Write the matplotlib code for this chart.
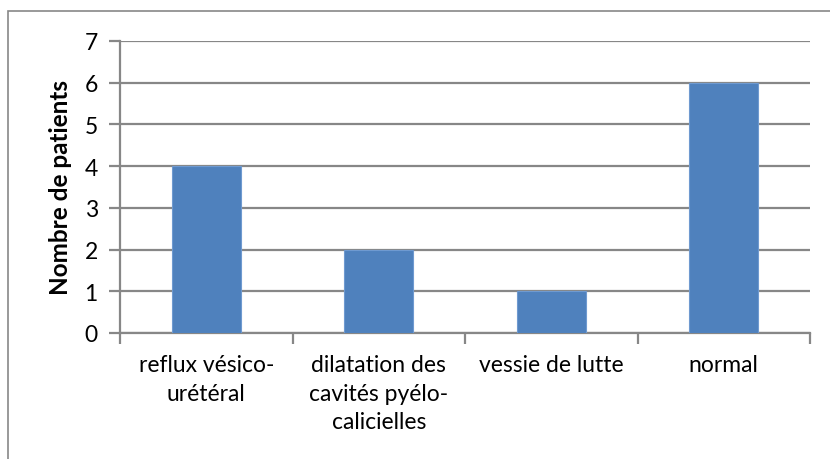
import matplotlib.pyplot as plt
from matplotlib.patches import Rectangle

categories = ["reflux vésico-\nurétéral", "dilatation des\ncavités pyélo-\ncalicielles",
              "vessie de lutte", "normal"]
values = [4, 2, 1, 6]
yticks = [0, 1, 2, 3, 4, 5, 6, 7]

plt.rcParams['font.family'] = ['Lato', 'DejaVu Sans']
grey = '#878787'
fs = 16.5

fig = plt.figure(figsize=(8.3, 4.6), dpi=100)
ax = fig.add_axes([120 / 830, 126 / 460, 690 / 830, 292 / 460])

# outer chart border (cut off on right/bottom like the source)
fig.patches.append(Rectangle((8 / 830, -0.1), 1.1, (460 - 12) / 460 + 0.1,
                             transform=fig.transFigure, fill=False,
                             edgecolor=grey, linewidth=1.2))

x = range(len(categories))
ax.bar(x, values, width=0.4, color='#4F81BD', edgecolor='#6F9AD0',
       linewidth=0.8, zorder=3)

ax.set_xlim(-0.5, len(categories) - 0.5)
ax.set_ylim(0, 7)
ax.set_yticks(yticks)
ax.set_yticklabels([str(t) for t in yticks], fontsize=fs)
ax.yaxis.grid(True, color=grey, linewidth=1.6)
ax.set_axisbelow(True)

ax.set_xticks([i - 0.5 for i in range(len(categories) + 1)])
ax.set_xticklabels([])
ax.tick_params(axis='x', length=8, color=grey, width=1.6, direction='out')
ax.tick_params(axis='y', length=8, color=grey, width=1.6, direction='out', pad=8)
for i, lab in enumerate(categories):
    ax.text(i, -0.5, lab, ha='center', va='top', fontsize=fs,
            linespacing=1.45)

for s in ['top', 'right']:
    ax.spines[s].set_visible(False)
for s in ['left', 'bottom']:
    ax.spines[s].set_color(grey)
    ax.spines[s].set_linewidth(1.6)

ax.set_ylabel('Nombre de patients', fontsize=17.5, fontweight='bold', labelpad=9)

fig.savefig('out.png', dpi=100)
